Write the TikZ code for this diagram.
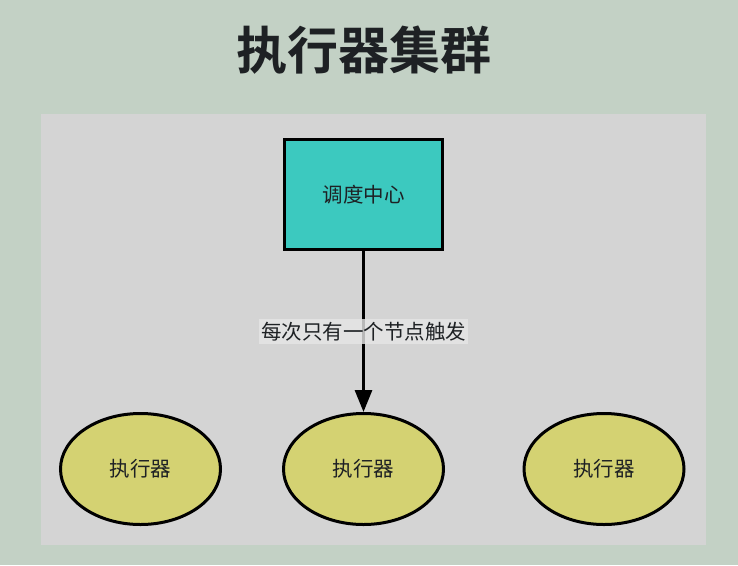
\documentclass[tikz,border=0pt]{standalone}
\usepackage{fontspec}
\newfontfamily\cjk{Noto Sans CJK SC}
\newfontfamily\cjkb{Noto Sans CJK SC Bold}
\usetikzlibrary{shapes.geometric,arrows.meta}
\definecolor{bgc}{HTML}{C3D1C5}
\definecolor{panel}{HTML}{D4D4D4}
\definecolor{teal}{HTML}{3CC9BF}
\definecolor{yel}{HTML}{D4D272}
\definecolor{ink}{HTML}{1E2124}
\definecolor{lblbg}{HTML}{E6E6E6}
\begin{document}
\begin{tikzpicture}[x=1pt,y=-1pt,
  exec/.style={ellipse,draw=black,line width=3pt,fill=yel,minimum width=160pt,minimum height=111pt,inner sep=0pt,font=\cjk\fontsize{20.5}{20.5}\selectfont,text=ink},
  center/.style={rectangle,draw=black,line width=3pt,fill=teal,minimum width=158pt,minimum height=110pt,inner sep=0pt,font=\cjk\fontsize{20.5}{20.5}\selectfont,text=ink},
  lbl/.style={fill=lblbg,fill opacity=0.8,text opacity=1,font=\cjk\fontsize{20.5}{20.5}\selectfont,text=ink,inner xsep=2pt,inner ysep=3pt}]
\fill[bgc] (0,0) rectangle (738,565);
\useasboundingbox (0,0) rectangle (738,565);
\fill[panel] (41,114) rectangle (706,545);
\node[font=\cjkb\fontsize{51}{51}\selectfont,text=ink] (title) at (363.5,50) {执行器集群};
\node[center] (hub) at (363.5,194.5) {调度中心};
\node[exec] (e1) at (140.5,469) {执行器};
\node[exec] (e2) at (363.5,469) {执行器};
\node[exec] (e3) at (604,469) {执行器};
\draw[line width=3pt,-{Triangle[length=22pt,width=17pt]}] (hub) -- (e2)
  node[lbl,pos=0.5] (lab) {每次只有一个节点触发};
\end{tikzpicture}
\end{document}
